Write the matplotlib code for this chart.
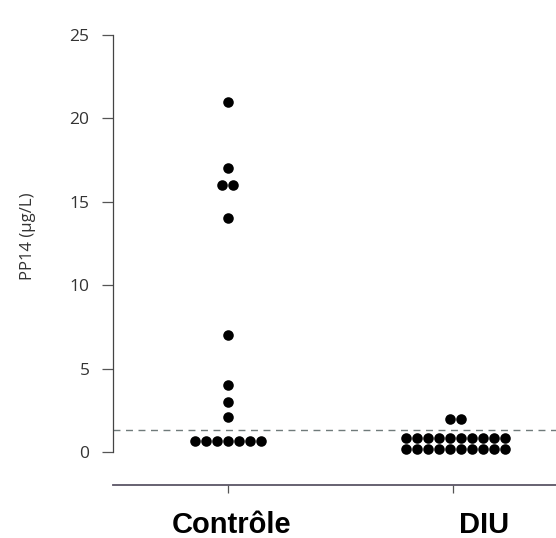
import numpy as np
import matplotlib
matplotlib.use("Agg")
import matplotlib.pyplot as plt
import matplotlib.transforms as mtransforms

# ---- data ----
categories = ["Contrôle", "DIU"]
controle_values = [21, 17, 16, 16, 14, 7, 4, 3, 2.1,
                   0.65, 0.65, 0.65, 0.65, 0.65, 0.65, 0.65]
diu_values = [2.0, 2.0] + [0.85] * 10 + [0.15] * 10
threshold = 1.3
y_ticks = [0, 5, 10, 15, 20, 25]

groups = [controle_values, diu_values]

fig = plt.figure(figsize=(5.56, 5.38), dpi=100)
ax = fig.add_axes([113 / 556, 1 - 485 / 538, 1 - 113 / 556, (485 - 35) / 538])

spacing = 0.049
for i, vals in enumerate(groups):
    vals = np.asarray(vals, dtype=float)
    xs = np.zeros_like(vals)
    for v in np.unique(vals):
        idx = np.where(vals == v)[0]
        n = len(idx)
        xs[idx] = i + (np.arange(n) - (n - 1) / 2) * spacing
    ax.plot(xs + (0.013 if i == 1 else 0), vals, 'o', color='black',
            markersize=7.6, markeredgewidth=0)

ax.axhline(threshold, color='#6f7a7a', lw=1.0, dashes=(5, 4))

ax.set_xlim(-0.511, 1.458)
ax.set_ylim(-1.98, 25)

ax.spines['top'].set_visible(False)
ax.spines['right'].set_visible(False)
ax.spines['left'].set_bounds(0, 25)
ax.spines['left'].set_color('#444444')
ax.spines['left'].set_linewidth(0.9)
ax.spines['bottom'].set_color('#5a5566')
ax.spines['bottom'].set_linewidth(1.3)

ax.set_yticks(y_ticks)
ax.set_yticklabels([str(t) for t in y_ticks], fontfamily='Open Sans',
                   fontsize=12.5, color='#333333')
ax.tick_params(axis='y', direction='out', length=8, width=0.9,
               color='#555555', pad=9)

ax.set_xticks(range(len(categories)))
ax.set_xticklabels(categories, fontfamily='Liberation Sans', fontweight='bold',
                   fontsize=21, color='black')
ax.tick_params(axis='x', direction='out', length=6, width=0.9,
               color='#555555', pad=13)
labs = ax.get_xticklabels()
labs[0].set_transform(labs[0].get_transform() +
                      mtransforms.ScaledTranslation(4 / 100, 0, fig.dpi_scale_trans))
labs[1].set_transform(labs[1].get_transform() +
                      mtransforms.ScaledTranslation(31 / 100, 0, fig.dpi_scale_trans))

ax.set_ylabel("PP14 (µg/L)", fontfamily='Open Sans', fontsize=12,
              color='#333333')
ax.yaxis.set_label_coords(-(113 - 36) / (556 - 113), (485 - 236) / 450)

fig.savefig("out.png", dpi=100)
